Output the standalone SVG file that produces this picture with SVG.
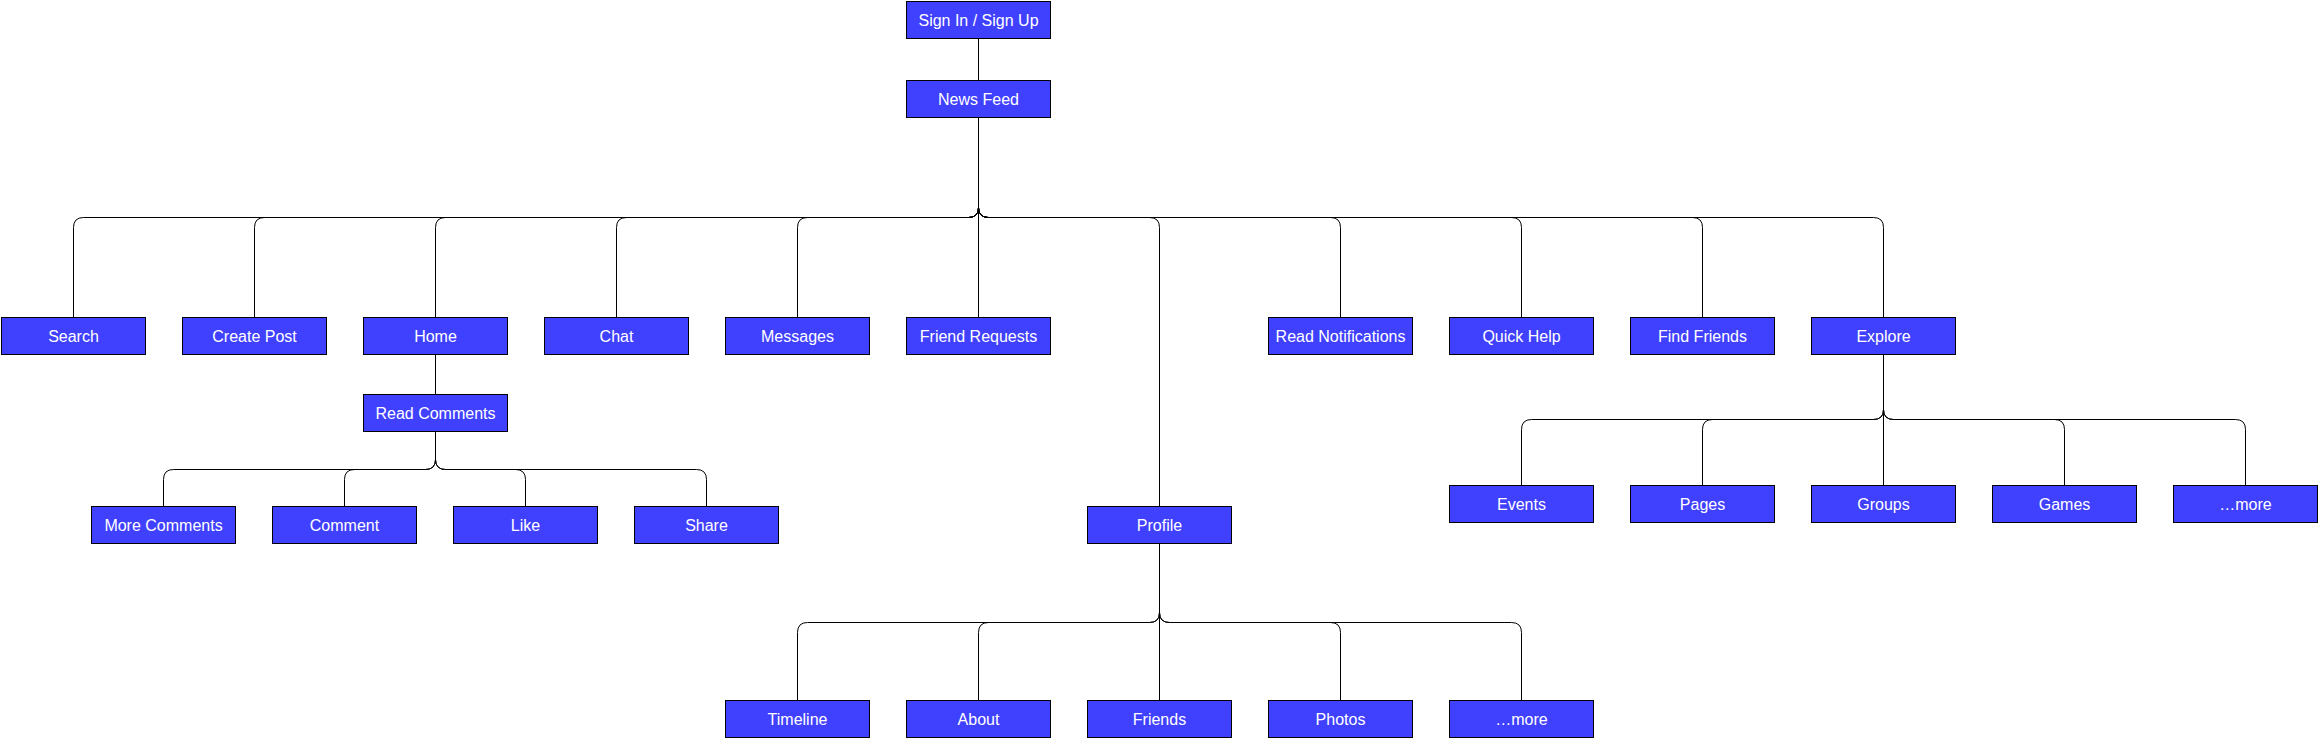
<svg xmlns="http://www.w3.org/2000/svg" width="2318" height="739" viewBox="0 0 2318 739">
<style>
.n rect{fill:#4040FF;stroke:#000;stroke-width:1}
.n text{fill:#fff;font-family:"Liberation Sans",Arial,Helvetica,sans-serif;font-size:16px;text-anchor:middle}
#edges path{fill:none;stroke:#000;stroke-width:1}
</style>
<rect width="2318" height="739" fill="#fff"/>
<g id="edges">
<path d="M978.5 38.5 L978.5 80.5"/>
<path d="M978.5 117.5 L978.5 207.5 Q978.5 217.5 968.5 217.5 L83.5 217.5 Q73.5 217.5 73.5 227.5 L73.5 317.5"/>
<path d="M978.5 117.5 L978.5 207.5 Q978.5 217.5 968.5 217.5 L264.5 217.5 Q254.5 217.5 254.5 227.5 L254.5 317.5"/>
<path d="M978.5 117.5 L978.5 207.5 Q978.5 217.5 968.5 217.5 L445.5 217.5 Q435.5 217.5 435.5 227.5 L435.5 317.5"/>
<path d="M978.5 117.5 L978.5 207.5 Q978.5 217.5 968.5 217.5 L626.5 217.5 Q616.5 217.5 616.5 227.5 L616.5 317.5"/>
<path d="M978.5 117.5 L978.5 207.5 Q978.5 217.5 968.5 217.5 L807.5 217.5 Q797.5 217.5 797.5 227.5 L797.5 317.5"/>
<path d="M978.5 117.5 L978.5 317.5"/>
<path d="M978.5 117.5 L978.5 207.5 Q978.5 217.5 988.5 217.5 L1149.5 217.5 Q1159.5 217.5 1159.5 227.5 L1159.5 506.5"/>
<path d="M978.5 117.5 L978.5 207.5 Q978.5 217.5 988.5 217.5 L1330.5 217.5 Q1340.5 217.5 1340.5 227.5 L1340.5 317.5"/>
<path d="M978.5 117.5 L978.5 207.5 Q978.5 217.5 988.5 217.5 L1511.5 217.5 Q1521.5 217.5 1521.5 227.5 L1521.5 317.5"/>
<path d="M978.5 117.5 L978.5 207.5 Q978.5 217.5 988.5 217.5 L1692.5 217.5 Q1702.5 217.5 1702.5 227.5 L1702.5 317.5"/>
<path d="M978.5 117.5 L978.5 207.5 Q978.5 217.5 988.5 217.5 L1873.5 217.5 Q1883.5 217.5 1883.5 227.5 L1883.5 317.5"/>
<path d="M435.5 354.5 L435.5 394.5"/>
<path d="M435.5 431.5 L435.5 459.5 Q435.5 469.5 425.5 469.5 L173.5 469.5 Q163.5 469.5 163.5 479.5 L163.5 506.5"/>
<path d="M435.5 431.5 L435.5 459.5 Q435.5 469.5 425.5 469.5 L354.5 469.5 Q344.5 469.5 344.5 479.5 L344.5 506.5"/>
<path d="M435.5 431.5 L435.5 459.5 Q435.5 469.5 445.5 469.5 L515.5 469.5 Q525.5 469.5 525.5 479.5 L525.5 506.5"/>
<path d="M435.5 431.5 L435.5 459.5 Q435.5 469.5 445.5 469.5 L696.5 469.5 Q706.5 469.5 706.5 479.5 L706.5 506.5"/>
<path d="M1883.5 354.5 L1883.5 409.5 Q1883.5 419.5 1873.5 419.5 L1531.5 419.5 Q1521.5 419.5 1521.5 429.5 L1521.5 485.5"/>
<path d="M1883.5 354.5 L1883.5 409.5 Q1883.5 419.5 1873.5 419.5 L1712.5 419.5 Q1702.5 419.5 1702.5 429.5 L1702.5 485.5"/>
<path d="M1883.5 354.5 L1883.5 485.5"/>
<path d="M1883.5 354.5 L1883.5 409.5 Q1883.5 419.5 1893.5 419.5 L2054.5 419.5 Q2064.5 419.5 2064.5 429.5 L2064.5 485.5"/>
<path d="M1883.5 354.5 L1883.5 409.5 Q1883.5 419.5 1893.5 419.5 L2235.5 419.5 Q2245.5 419.5 2245.5 429.5 L2245.5 485.5"/>
<path d="M1159.5 543.5 L1159.5 612.5 Q1159.5 622.5 1149.5 622.5 L807.5 622.5 Q797.5 622.5 797.5 632.5 L797.5 700.5"/>
<path d="M1159.5 543.5 L1159.5 612.5 Q1159.5 622.5 1149.5 622.5 L988.5 622.5 Q978.5 622.5 978.5 632.5 L978.5 700.5"/>
<path d="M1159.5 543.5 L1159.5 700.5"/>
<path d="M1159.5 543.5 L1159.5 612.5 Q1159.5 622.5 1169.5 622.5 L1330.5 622.5 Q1340.5 622.5 1340.5 632.5 L1340.5 700.5"/>
<path d="M1159.5 543.5 L1159.5 612.5 Q1159.5 622.5 1169.5 622.5 L1511.5 622.5 Q1521.5 622.5 1521.5 632.5 L1521.5 700.5"/>
</g>
<g id="signin" class="n"><rect x="906.5" y="1.5" width="144" height="37"/><text x="978.5" y="26">Sign In / Sign Up</text></g>
<g id="newsfeed" class="n"><rect x="906.5" y="80.5" width="144" height="37"/><text x="978.5" y="105">News Feed</text></g>
<g id="search" class="n"><rect x="1.5" y="317.5" width="144" height="37"/><text x="73.5" y="342">Search</text></g>
<g id="createpost" class="n"><rect x="182.5" y="317.5" width="144" height="37"/><text x="254.5" y="342">Create Post</text></g>
<g id="home" class="n"><rect x="363.5" y="317.5" width="144" height="37"/><text x="435.5" y="342">Home</text></g>
<g id="chat" class="n"><rect x="544.5" y="317.5" width="144" height="37"/><text x="616.5" y="342">Chat</text></g>
<g id="messages" class="n"><rect x="725.5" y="317.5" width="144" height="37"/><text x="797.5" y="342">Messages</text></g>
<g id="friendrequests" class="n"><rect x="906.5" y="317.5" width="144" height="37"/><text x="978.5" y="342">Friend Requests</text></g>
<g id="readnotifications" class="n"><rect x="1268.5" y="317.5" width="144" height="37"/><text x="1340.5" y="342">Read Notifications</text></g>
<g id="quickhelp" class="n"><rect x="1449.5" y="317.5" width="144" height="37"/><text x="1521.5" y="342">Quick Help</text></g>
<g id="findfriends" class="n"><rect x="1630.5" y="317.5" width="144" height="37"/><text x="1702.5" y="342">Find Friends</text></g>
<g id="explore" class="n"><rect x="1811.5" y="317.5" width="144" height="37"/><text x="1883.5" y="342">Explore</text></g>
<g id="readcomments" class="n"><rect x="363.5" y="394.5" width="144" height="37"/><text x="435.5" y="419">Read Comments</text></g>
<g id="morecomments" class="n"><rect x="91.5" y="506.5" width="144" height="37"/><text x="163.5" y="531">More Comments</text></g>
<g id="comment" class="n"><rect x="272.5" y="506.5" width="144" height="37"/><text x="344.5" y="531">Comment</text></g>
<g id="like" class="n"><rect x="453.5" y="506.5" width="144" height="37"/><text x="525.5" y="531">Like</text></g>
<g id="share" class="n"><rect x="634.5" y="506.5" width="144" height="37"/><text x="706.5" y="531">Share</text></g>
<g id="profile" class="n"><rect x="1087.5" y="506.5" width="144" height="37"/><text x="1159.5" y="531">Profile</text></g>
<g id="events" class="n"><rect x="1449.5" y="485.5" width="144" height="37"/><text x="1521.5" y="510">Events</text></g>
<g id="pages" class="n"><rect x="1630.5" y="485.5" width="144" height="37"/><text x="1702.5" y="510">Pages</text></g>
<g id="groups" class="n"><rect x="1811.5" y="485.5" width="144" height="37"/><text x="1883.5" y="510">Groups</text></g>
<g id="games" class="n"><rect x="1992.5" y="485.5" width="144" height="37"/><text x="2064.5" y="510">Games</text></g>
<g id="exploremore" class="n"><rect x="2173.5" y="485.5" width="144" height="37"/><text x="2245.5" y="510">…more</text></g>
<g id="timeline" class="n"><rect x="725.5" y="700.5" width="144" height="37"/><text x="797.5" y="725">Timeline</text></g>
<g id="about" class="n"><rect x="906.5" y="700.5" width="144" height="37"/><text x="978.5" y="725">About</text></g>
<g id="friends" class="n"><rect x="1087.5" y="700.5" width="144" height="37"/><text x="1159.5" y="725">Friends</text></g>
<g id="photos" class="n"><rect x="1268.5" y="700.5" width="144" height="37"/><text x="1340.5" y="725">Photos</text></g>
<g id="profilemore" class="n"><rect x="1449.5" y="700.5" width="144" height="37"/><text x="1521.5" y="725">…more</text></g>
</svg>
